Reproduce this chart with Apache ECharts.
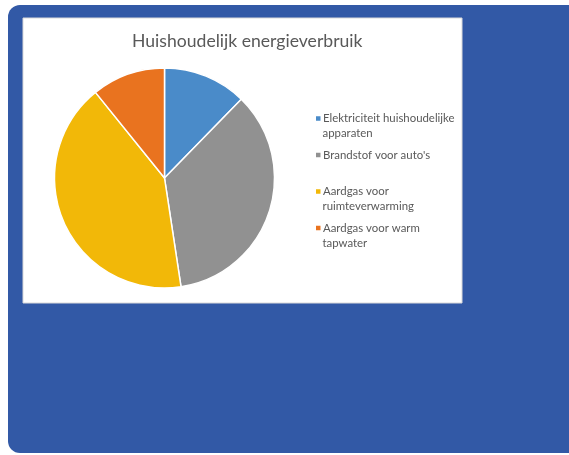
<!DOCTYPE html>
<html>
<head>
<meta charset="utf-8">
<script src="https://cdn.jsdelivr.net/npm/echarts@6/dist/echarts.min.js"></script>
<style>
html,body{margin:0;padding:0;background:#ffffff;}
#chart{width:569px;height:455px;}
</style>
</head>
<body>
<div id="chart"></div>
<script>
const titleText = 'Huishoudelijk energieverbruik';
const categories = [
  'Elektriciteit huishoudelijke apparaten',
  "Brandstof voor auto's",
  'Aardgas voor ruimteverwarming',
  'Aardgas voor warm tapwater'
];
const legendLines = [
  ['Elektriciteit huishoudelijke', 'apparaten'],
  ["Brandstof voor auto's", ''],
  ['Aardgas voor', 'ruimteverwarming'],
  ['Aardgas voor warm', 'tapwater']
];
const values = [12.3, 35.3, 41.6, 10.8];
const colors = ['#4a8bc9', '#919191', '#f2b808', '#e9731f'];

const FONT = 'Lato';
const TXT = '#595959';

const rich = {
  g: { width: 2.5, height: 15, lineHeight: 15 },
  s: { width: 6.5, height: 15, lineHeight: 15 },
  t: { fontSize: 11.4, fontFamily: FONT, color: TXT, lineHeight: 15 }
};
colors.forEach((c, i) => {
  rich['m' + i] = { width: 4.5, height: 4.5, backgroundColor: c, verticalAlign: 'middle' };
});

const chart = echarts.init(document.getElementById('chart'), null, { renderer: 'canvas' });
chart.setOption({
  animation: false,
  backgroundColor: '#ffffff',
  graphic: [
    {
      type: 'rect', z: -20, silent: true,
      shape: { x: 8, y: 5, width: 600, height: 448, r: [12, 0, 0, 12] },
      style: { fill: '#3259a6' }
    },
    {
      type: 'rect', z: -10, silent: true,
      shape: { x: 23, y: 18, width: 439, height: 285 },
      style: { fill: '#ffffff', stroke: '#d9d9d9', lineWidth: 1 }
    }
  ],
  title: {
    text: titleText,
    left: 132,
    top: 32,
    padding: 0,
    textStyle: { fontFamily: FONT, fontSize: 17.6, fontWeight: 'normal', color: TXT }
  },
  legend: {
    orient: 'vertical',
    left: 310,
    top: 111,
    itemGap: 6.5,
    itemWidth: 0,
    itemHeight: 0,
    padding: 0,
    selectedMode: false,
    data: categories,
    textStyle: { fontFamily: FONT, fontSize: 11.4, color: TXT, rich: rich },
    formatter: function (name) {
      const i = categories.indexOf(name);
      const l = legendLines[i];
      return '{m' + i + '|}{g|}{t|' + l[0] + '}\n{s|}' + (l[1] ? '{t|' + l[1] + '}' : '');
    }
  },
  series: [{
    type: 'pie',
    center: [164.5, 178],
    radius: 110,
    startAngle: 90,
    clockwise: true,
    label: { show: false },
    labelLine: { show: false },
    emphasis: { disabled: true },
    itemStyle: { borderColor: '#ffffff', borderWidth: 1.5 },
    data: categories.map((n, i) => ({ name: n, value: values[i], itemStyle: { color: colors[i] } }))
  }]
});
</script>
</body>
</html>
